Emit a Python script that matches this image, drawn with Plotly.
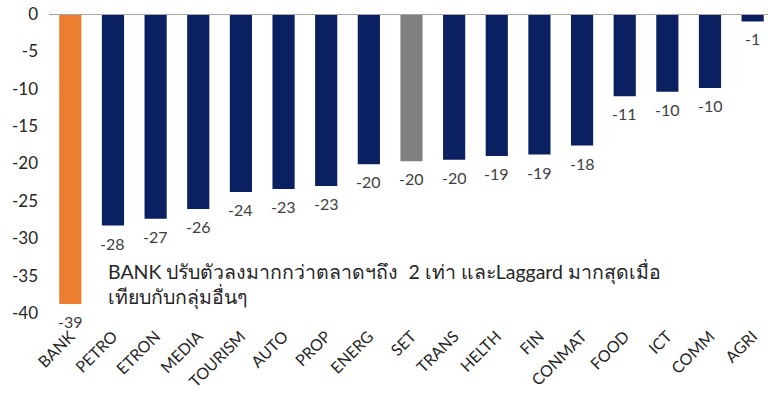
import plotly.graph_objects as go

categories = ["BANK", "PETRO", "ETRON", "MEDIA", "TOURISM", "AUTO", "PROP", "ENERG", "SET",
              "TRANS", "HELTH", "FIN", "CONMAT", "FOOD", "ICT", "COMM", "AGRI"]
values = [-38.8, -28.3, -27.4, -26.1, -23.8, -23.4, -23.0, -20.1, -19.7,
          -19.5, -19.0, -18.8, -17.6, -11.0, -10.4, -9.9, -1.0]
y_ticks = [0, -5, -10, -15, -20, -25, -30, -35, -40]
note_lines = ["BANK ปรับตัวลงมากกว่าตลาดฯถึง  2 เท่า และLaggard มากสุดเมื่อ", "เทียบกับกลุ่มอื่นๆ"]

NAVY = "#0A2060"
ORANGE = "#ED7D31"
GRAY = "#808080"
colors = [ORANGE if c == "BANK" else GRAY if c == "SET" else NAVY for c in categories]

FONT = "Lato, 'Noto Sans', sans-serif"

fig = go.Figure(go.Bar(
    x=categories, y=values,
    marker=dict(color=colors, line=dict(width=0)),
    width=0.52,
    cliponaxis=False,
))

for c, v in zip(categories, values):
    fig.add_annotation(x=c, y=v, xref="x", yref="y", text=f"{v:.0f}", showarrow=False,
                       yanchor="top", yshift=-6,
                       font=dict(size=16, color="#404040", family=FONT))

fig.add_shape(type="line", xref="paper", yref="y", x0=0, x1=1, y0=0, y1=0,
              line=dict(color="#A6A6A6", width=2))

fig.add_annotation(xref="x", yref="y", x=0.84, y=-36.2, xanchor="left", yanchor="middle",
                   text="<br>".join(note_lines), showarrow=False, align="left",
                   font=dict(size=19.5, color="#262626", family=FONT))

fig.update_layout(
    width=768, height=394,
    margin=dict(l=49, r=0, t=14, b=81),
    plot_bgcolor="white", paper_bgcolor="white",
    showlegend=False,
    xaxis=dict(range=[-0.5, 16.36], tickangle=-45, showgrid=False, showline=False,
               ticks="", ticklabelstandoff=10,
               tickfont=dict(size=16, color="#262626", family=FONT)),
    yaxis=dict(range=[-40, 0], tickvals=y_ticks, ticktext=[str(t) for t in y_ticks],
               showgrid=False, zeroline=False, showline=False, ticks="",
               ticklabelstandoff=10,
               tickfont=dict(size=17, color="#262626", family=FONT)),
    font=dict(family=FONT),
)

fig.write_html("out.html")
